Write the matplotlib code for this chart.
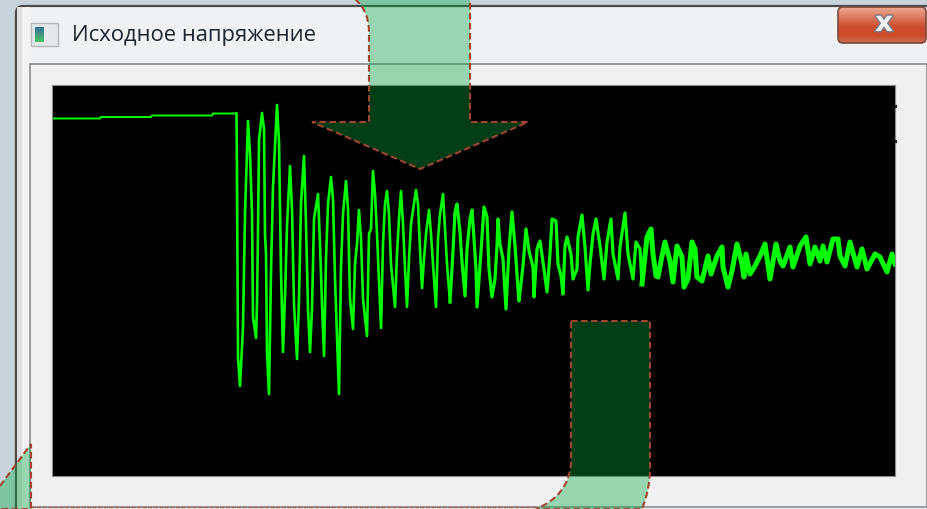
import matplotlib
matplotlib.use("Agg")
import matplotlib.pyplot as plt
import numpy as np
from matplotlib.patches import Rectangle, FancyBboxPatch, PathPatch
from matplotlib.path import Path
import matplotlib.patheffects as pe

TITLE = "Исходное напряжение"

# Oscilloscope trace (sample position, level on the screen)
flat_t = [52, 100, 101, 151, 152, 212, 213, 236]
flat_v = [119.5, 119.5, 118, 118, 116.5, 116.5, 114.5, 114.5]
early_t = [236.5, 237, 238, 240, 243, 245, 248, 250, 252, 253, 256, 257, 258, 259, 262, 264, 265, 266, 267, 269,
           271, 273, 277, 279, 281, 283, 285, 287, 290, 292, 294, 297, 299, 301, 304, 306, 308, 310, 312, 314,
           318, 320, 322, 324, 326, 328, 331, 333, 335, 339, 341, 343, 346, 348, 350, 353, 355, 357, 359, 361,
           363, 367, 369, 371, 373, 375, 377, 381, 383, 385, 387, 389, 391, 395, 397, 399, 401, 403, 405, 407,
           409, 411, 416, 418, 420, 422, 424, 426, 429, 431, 433, 436, 438, 440, 443, 445, 447, 450]
early_v = [114.5, 177, 358, 387, 328, 215, 122, 155, 215, 318, 339, 305, 232, 141, 114, 130, 235, 255, 353, 395,
           273, 188, 106, 143, 272, 353, 297, 227, 167, 210, 305, 360, 300, 205, 157, 225, 310, 353, 310, 220,
           195, 245, 305, 357, 260, 205, 178, 200, 280, 395, 268, 215, 182, 210, 300, 330, 265, 245, 211, 240,
           300, 337, 235, 230, 172, 195, 235, 329, 245, 205, 192, 215, 265, 308, 255, 220, 192, 225, 270, 308,
           260, 225, 191, 205, 250, 289, 260, 235, 211, 235, 265, 308, 240, 215, 195, 230, 265, 303]
mid_t = [453, 455, 457, 460, 462, 465, 467, 470, 472, 474, 476, 477, 480, 482, 484, 487, 489, 492, 495, 497,
         498, 500, 503, 506, 509, 512, 515, 518, 519, 523, 526, 529, 533, 534, 537, 540, 544, 547, 550, 552,
         556, 558, 561, 563, 565, 567, 571, 573, 577, 578, 582, 585, 588, 590, 593, 596, 600, 604, 607, 611,
         613, 618, 620, 625, 628, 633, 636, 640]
mid_v = [252, 213, 205, 233, 263, 297, 250, 220, 211, 240, 270, 308, 267, 238, 208, 218, 270, 298, 280, 247,
         220, 245, 260, 310, 250, 213, 247, 290, 302, 267, 230, 252, 268, 298, 250, 242, 270, 293, 255, 220,
         222, 265, 277, 295, 247, 238, 255, 280, 270, 238, 216, 248, 291, 265, 235, 220, 247, 280, 243, 220,
         255, 280, 248, 214, 255, 280, 243, 250]
tail_t = [642, 647, 651, 653, 656, 658, 661, 665, 670, 673, 677, 682, 684, 688, 692, 695, 697, 702, 708, 711,
          717, 722, 723, 728, 732, 737, 742, 744, 746, 750, 755, 760, 765, 770, 776, 780, 783, 790, 793, 800,
          806, 810, 815, 820, 823, 827, 833, 838, 840, 845, 850, 857, 862, 867, 875, 880, 887, 892, 895]
tail_v = [285, 238, 230, 255, 277, 278, 262, 243, 262, 283, 247, 258, 288, 280, 243, 250, 278, 282, 257, 275,
          257, 248, 268, 288, 272, 245, 265, 278, 255, 275, 267, 257, 245, 280, 245, 262, 267, 248, 268, 247,
          238, 265, 248, 262, 247, 263, 240, 240, 257, 267, 243, 268, 250, 270, 255, 258, 273, 255, 265]

TRACE = "#00FF00"
DASH = "#A0452F"
BAND = "#00A941"
W, H = 928, 510

fig = plt.figure(figsize=(W / 100, H / 100), dpi=100)
fig.patch.set_facecolor("#C8D4DA")


def full_axes(z):
    ax = fig.add_axes([0, 0, 1, 1], zorder=z)
    ax.set_xlim(0, W)
    ax.set_ylim(H, 0)
    ax.axis("off")
    ax.patch.set_alpha(0)
    return ax


# --- window chrome
bg = full_axes(0)
bg.add_patch(FancyBboxPatch((16, 7), 940, 560, boxstyle="round,pad=0,rounding_size=7",
                            fc="#F0F1F2", ec="#4A4A4A", lw=1.6))
bg.add_patch(Rectangle((17, 8), 13, 500, fc="#DDDDDD", ec="none"))
bg.add_patch(Rectangle((22, 8), 8, 500, fc="#F2F2F2", ec="none"))
bg.add_patch(Rectangle((30, 64.5), 897, 443.5, fc="#F0F0F0", ec="#8C8C8C", lw=1.2))
bg.text(72, 36, TITLE, fontsize=15.8, family="Open Sans", color="#1C2530", va="center", ha="left")

# window icon
bg.add_patch(Rectangle((31.5, 23.5), 27, 23, fc="#E4E8EA", ec="#B4B8BA", lw=1))
icon = np.linspace(0, 1, 16)[:, None, None] * np.array([[[0.1, 0.3, -0.2]]]) + np.array([[[0.2, 0.45, 0.6]]])
bg.imshow(icon, extent=(35, 44, 43, 28), aspect="auto", zorder=3)
bg.set_xlim(0, W)
bg.set_ylim(H, 0)

# close button
grad = np.zeros((36, 1, 3))
top = np.array([0.93, 0.66, 0.58])
midc = np.array([0.80, 0.30, 0.17])
low = np.array([0.80, 0.42, 0.30])
for i in range(36):
    f = i / 35
    grad[i, 0] = top + (midc - top) * min(f / 0.55, 1) if f < 0.8 else midc + (low - midc) * (f - 0.8) / 0.2
btn = FancyBboxPatch((838, 8), 88, 36, boxstyle="round,pad=0,rounding_size=5", fc="none", ec="#7A4A40", lw=1.2, zorder=4)
bg.add_patch(btn)
img = bg.imshow(grad, extent=(838, 926, 44, 8), aspect="auto", zorder=3)
img.set_clip_path(btn)
bg.set_xlim(0, W)
bg.set_ylim(H, 0)
bg.text(884, 24, "x", fontsize=20, fontweight="bold", family="DejaVu Sans", color="#F0F0F0", ha="center", va="center",
        zorder=5, path_effects=[pe.withStroke(linewidth=2, foreground="#7C7C84")])

# --- scope screen
scope = fig.add_axes([52 / W, 1 - 477 / H, 843 / W, 391 / H], zorder=1)
scope.set_facecolor("black")
scope.set_xlim(52, 895)
scope.set_ylim(477, 86)
scope.set_xticks([])
scope.set_yticks([])
for s in scope.spines.values():
    s.set_edgecolor("#8C8C8C")
    s.set_linewidth(0.8)
scope.plot(flat_t, flat_v, color=TRACE, lw=1.4, solid_joinstyle="miter")
scope.plot(early_t, early_v, color=TRACE, lw=1.9, solid_joinstyle="round")
scope.plot(early_t[-1:] + mid_t + tail_t[:1], early_v[-1:] + mid_v + tail_v[:1], color=TRACE, lw=2.3,
           solid_joinstyle="round")
scope.plot(tail_t, tail_v, color=TRACE, lw=3.6, solid_joinstyle="round")

# --- translucent arrow / band overlay
ov = full_axes(2)
style = dict(fc=(0, 169 / 255, 65 / 255, 0.367), ec=DASH, lw=1.5, ls=(0, (3.2, 1.6)))
M, L, C = Path.MOVETO, Path.LINETO, Path.CURVE3
arrow = [(355, 0), (369, 12), (369, 33), (369, 123), (312, 123), (420, 170), (528, 123), (470, 123), (470, 0)]
arrow_c = [M, C, C, L, L, L, L, L, L]
ov.add_patch(PathPatch(Path(arrow, arrow_c), **style))
band = [(571, 322), (650, 322), (650, 470), (650, 490), (642, 510), (536, 510), (568, 497), (571, 465), (571, 322)]
band_c = [M, L, L, C, C, L, C, C, L]
ov.add_patch(PathPatch(Path(band, band_c), **style))
corner = [(0, 487), (31, 445), (31, 510), (0, 510)]
ov.add_patch(PathPatch(Path(corner, [M, L, L, L]), **style))
ov.plot([31, 536], [508, 508], color=DASH, lw=1, ls=(0, (3, 1)), alpha=0.7)
ov.add_patch(Rectangle((895, 106), 2.5, 3, fc="#111111", ec="none"))
ov.add_patch(Rectangle((895, 141), 2.5, 2.5, fc="#111111", ec="none"))

fig.savefig("out.png", dpi=100)
